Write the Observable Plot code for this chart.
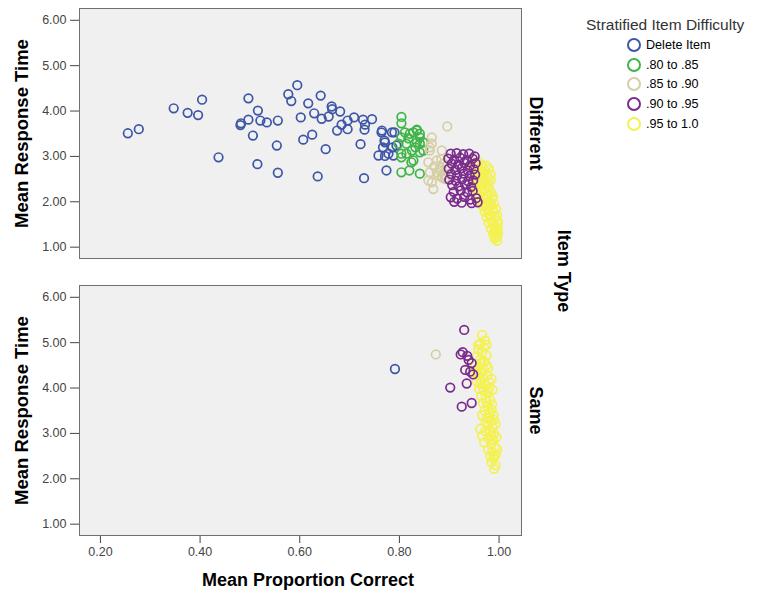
<!DOCTYPE html>
<html><head><meta charset="utf-8">
<script src="https://cdn.jsdelivr.net/npm/d3@7"></script>
<script src="https://cdn.jsdelivr.net/npm/@observablehq/plot@0.6"></script>
<style>
body{margin:0;background:#fff;font-family:"Liberation Sans",Arial,sans-serif;}
#wrap{position:relative;width:765px;height:595px;overflow:hidden;}
#chart{position:absolute;left:0;top:0;}
.abs{position:absolute;white-space:nowrap;}
#xtitle{left:308px;top:580px;transform:translate(-50%,-50%);font-weight:bold;font-size:18px;color:#000;}
#fytitle{left:563px;top:271px;transform:translate(-50%,-50%) rotate(90deg);font-weight:bold;font-size:18px;color:#000;}
#legend{left:586px;top:16px;}
#legend .t{font-size:15.5px;color:#333;margin-bottom:1px;}
#legend .row{display:flex;align-items:center;height:19.8px;margin-left:40px;font-size:12.6px;color:#000;}
#legend svg{margin-right:4px;}
</style></head><body>
<div id="wrap"><div id="chart"></div>
<div id="xtitle" class="abs">Mean Proportion Correct</div>
<div id="fytitle" class="abs">Item Type</div>
<div id="legend" class="abs"></div>
</div>
<script>
const itemTypes = ["Different", "Same"];
const categories = ["Delete Item", ".80 to .85", ".85 to .90", ".90 to .95", ".95 to 1.0"];
const colors = ["#3d56a6", "#3fb548", "#d6cea4", "#7a2b8c", "#f4f152"];
const xTicks = [0.2, 0.4, 0.6, 0.8, 1.0];
const yTicks = [1, 2, 3, 4, 5, 6];

// Item type "Different"
const diffDelete = [[0.255,3.51],[0.277,3.60],[0.347,4.06],[0.375,3.96],[0.396,3.91],[0.404,4.25],[0.437,2.98],[0.481,3.69],[0.482,3.73],[0.497,4.28],[0.497,3.81],[0.516,4.01],[0.506,3.46],[0.521,3.79],[0.534,3.75],[0.556,3.79],[0.515,2.83],[0.554,3.24],[0.556,2.64],[0.577,4.37],[0.595,4.57],[0.583,4.22],[0.617,4.17],[0.642,4.34],[0.602,3.86],[0.629,3.95],[0.644,3.83],[0.658,3.88],[0.664,4.10],[0.665,4.04],[0.681,3.99],[0.625,3.48],[0.607,3.37],[0.652,3.16],[0.636,2.56],[0.675,3.57],[0.684,3.70],[0.696,3.60],[0.696,3.79],[0.709,3.86],[0.727,3.81],[0.731,3.70],[0.730,3.59],[0.745,3.82],[0.722,3.27],[0.729,2.52],[0.765,3.57],[0.785,3.53],[0.790,3.53],[0.770,3.35],[0.767,3.20],[0.758,3.02],[0.771,3.01],[0.788,3.02],[0.786,3.20],[0.774,2.69],[0.794,3.24],[0.764,3.53],[0.771,3.31],[0.778,3.06]];
const diffG80 = [[0.804,3.87],[0.804,3.73],[0.811,3.53],[0.804,3.42],[0.821,3.50],[0.835,3.57],[0.841,3.50],[0.835,3.31],[0.814,3.28],[0.825,3.13],[0.804,3.06],[0.814,3.06],[0.841,3.09],[0.828,2.91],[0.841,3.28],[0.848,3.31],[0.804,2.65],[0.820,2.69],[0.841,2.62],[0.828,3.53],[0.798,3.28],[0.835,3.59],[0.841,3.42],[0.824,2.87],[0.804,2.98],[0.848,3.13],[0.818,3.40],[0.832,3.20]];
const diffG85 = [[0.896,3.66],[0.865,3.42],[0.865,3.28],[0.861,3.13],[0.885,3.13],[0.875,2.91],[0.858,2.87],[0.888,2.84],[0.861,2.65],[0.875,2.65],[0.885,2.54],[0.865,2.43],[0.881,2.69],[0.868,2.28],[0.891,2.51],[0.858,2.47],[0.861,3.20],[0.882,2.75],[0.890,2.60],[0.886,2.56],[0.893,2.70],[0.878,2.58],[0.895,2.80],[0.884,2.94],[0.892,2.50],[0.870,2.78]];
const diffG90 = [[0.903,3.06],[0.915,3.07],[0.928,3.05],[0.940,3.06],[0.951,3.00],[0.898,2.95],[0.910,2.93],[0.922,2.97],[0.935,2.92],[0.947,2.95],[0.905,2.84],[0.918,2.82],[0.930,2.86],[0.942,2.80],[0.953,2.85],[0.899,2.73],[0.912,2.70],[0.925,2.74],[0.937,2.69],[0.949,2.72],[0.904,2.61],[0.916,2.58],[0.929,2.62],[0.941,2.57],[0.952,2.60],[0.900,2.49],[0.913,2.46],[0.926,2.50],[0.938,2.45],[0.948,2.47],[0.906,2.37],[0.919,2.34],[0.932,2.38],[0.944,2.33],[0.909,2.22],[0.923,2.25],[0.936,2.21],[0.947,2.24],[0.903,2.10],[0.916,2.07],[0.930,2.11],[0.942,2.05],[0.954,2.08],[0.910,2.00],[0.925,1.98],[0.945,1.97],[0.957,1.99]];
const diffG95 = [[0.950,2.86],[0.958,2.88],[0.966,2.82],[0.975,2.79],[0.948,2.74],[0.957,2.70],[0.965,2.76],[0.972,2.68],[0.980,2.72],[0.952,2.62],[0.961,2.58],[0.969,2.64],[0.977,2.55],[0.949,2.50],[0.958,2.47],[0.966,2.52],[0.974,2.43],[0.983,2.48],[0.953,2.38],[0.962,2.34],[0.970,2.40],[0.979,2.31],[0.956,2.26],[0.965,2.22],[0.973,2.28],[0.984,2.20],[0.950,2.30],[0.960,2.14],[0.968,2.10],[0.977,2.15],[0.986,2.07],[0.963,2.02],[0.972,1.97],[0.981,2.01],[0.990,1.95],[0.967,1.90],[0.976,1.86],[0.985,1.91],[0.994,1.84],[0.971,1.78],[0.980,1.74],[0.989,1.79],[0.996,1.70],[0.975,1.66],[0.984,1.62],[0.992,1.66],[0.997,1.58],[0.979,1.54],[0.988,1.50],[0.996,1.46],[0.998,1.52],[0.984,1.40],[0.993,1.36],[0.997,1.41],[0.988,1.29],[0.996,1.25],[0.998,1.30],[0.991,1.19],[0.996,1.14],[0.994,1.22],[0.955,2.80],[0.962,2.66],[0.954,2.55],[0.963,2.44],[0.957,2.18],[0.966,2.30],[0.975,2.05],[0.970,1.94],[0.978,1.80],[0.982,1.68],[0.986,1.56],[0.990,1.44],[0.992,1.32],[0.982,1.95],[0.988,2.12],[0.979,2.42],[0.983,2.60]];

// Item type "Same"
const sameDelete = [[0.791,4.42]];
const sameG85 = [[0.873,4.74]];
const sameG90 = [[0.930,5.28],[0.923,4.74],[0.927,4.79],[0.936,4.71],[0.945,4.55],[0.932,4.40],[0.942,4.36],[0.935,4.10],[0.902,4.01],[0.925,3.59],[0.945,3.67],[0.939,4.62],[0.948,4.30]];
const sameG95 = [[0.966,5.17],[0.972,5.05],[0.962,4.98],[0.970,4.90],[0.958,4.85],[0.966,4.78],[0.975,4.72],[0.955,4.70],[0.962,4.62],[0.971,4.58],[0.952,4.52],[0.960,4.46],[0.969,4.40],[0.978,4.44],[0.950,4.35],[0.958,4.30],[0.967,4.24],[0.976,4.28],[0.985,4.20],[0.955,4.15],[0.963,4.10],[0.972,4.06],[0.981,4.12],[0.960,3.98],[0.969,3.94],[0.978,3.90],[0.987,3.96],[0.964,3.82],[0.973,3.78],[0.982,3.74],[0.968,3.66],[0.977,3.60],[0.986,3.64],[0.971,3.50],[0.980,3.45],[0.989,3.40],[0.975,3.34],[0.984,3.28],[0.978,3.18],[0.987,3.12],[0.993,3.20],[0.982,3.04],[0.990,2.98],[0.979,2.90],[0.988,2.85],[0.995,2.92],[0.984,2.76],[0.992,2.70],[0.986,2.60],[0.994,2.54],[0.989,2.45],[0.985,2.36],[0.993,2.30],[0.990,2.22],[0.962,3.10],[0.966,2.95],[0.970,2.80],[0.973,3.25],[0.958,4.95],[0.975,4.95],[0.963,4.55],[0.955,4.40],[0.975,4.50],[0.965,4.35],[0.962,4.20],[0.980,4.00],[0.968,4.00],[0.975,3.70],[0.985,3.52],[0.966,3.40],[0.980,3.35],[0.990,3.30],[0.972,3.05],[0.985,2.95],[0.978,2.65],[0.990,2.50],[0.996,2.65],[0.982,2.50]];

const groups = [
  ["Different", "Delete Item", diffDelete],
  ["Different", ".80 to .85", diffG80],
  ["Different", ".85 to .90", diffG85],
  ["Different", ".95 to 1.0", diffG95],
  ["Different", ".90 to .95", diffG90],
  ["Same", "Delete Item", sameDelete],
  ["Same", ".85 to .90", sameG85],
  ["Same", ".95 to 1.0", sameG95],
  ["Same", ".90 to .95", sameG90]
];
const rows = [];
for (const [type, cat, arr] of groups) for (const [x, y] of arr) rows.push({type, cat, x, y});

const fmt = d3.format(".2f");
const chart = Plot.plot({
  width: 765, height: 595,
  marginTop: 8, marginBottom: 60, marginLeft: 79, marginRight: 244,
  style: {fontFamily: "'Liberation Sans', Arial, sans-serif", fontSize: "12.5px", color: "#444", background: "transparent"},
  x: {domain: [0.158, 1.045], ticks: xTicks, tickFormat: fmt, label: null, tickSize: 8, tickPadding: 4},
  y: {domain: [0.75, 6.26], ticks: yTicks, tickFormat: fmt, label: null, tickSize: 9, tickPadding: 4},
  fy: {domain: itemTypes, padding: 0.0975, axis: null, label: null},
  color: {domain: categories, range: colors},
  marks: [
    Plot.frame({fill: "#f0f0f0", stroke: "#707070"}),
    Plot.dot(rows, {x: "x", y: "y", fy: "type", stroke: "cat", r: 4.3, strokeWidth: 1.7}),
    Plot.text(itemTypes, {fy: d => d, text: d => d, frameAnchor: "right", textAnchor: "middle", dx: 14, rotate: 90, fontWeight: "bold", fontSize: 18, fill: "#000"}),
    Plot.text(["Mean Response Time"], {text: d => d, frameAnchor: "left", textAnchor: "middle", dx: -57, rotate: -90, fontWeight: "bold", fontSize: 18.5, fill: "#000"})
  ]
});
document.getElementById("chart").appendChild(chart);

// legend
const lg = document.getElementById("legend");
const t = document.createElement("div");
t.className = "t"; t.textContent = "Stratified Item Difficulty";
lg.appendChild(t);
categories.forEach((c, i) => {
  const r = document.createElement("div");
  r.className = "row";
  r.innerHTML = `<svg width="16" height="16"><circle cx="8" cy="8" r="6" fill="none" stroke="${colors[i]}" stroke-width="2"/></svg><span>${c}</span>`;
  lg.appendChild(r);
});
</script>
</body></html>
